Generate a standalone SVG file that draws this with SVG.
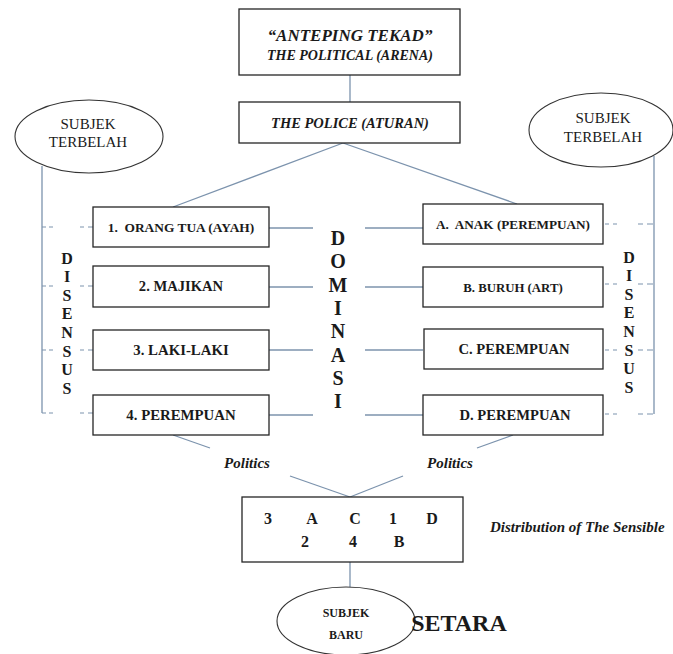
<svg xmlns="http://www.w3.org/2000/svg" width="673" height="654" viewBox="0 0 673 654" font-family="'Liberation Serif', 'DejaVu Serif', serif">
<style>
.box{fill:#fff;stroke:#262626;stroke-width:1.3}
.ell{fill:#fff;stroke:#333;stroke-width:1.1}
.con{stroke:#7c93ad;stroke-width:1.3;fill:none}
.dash{stroke:#7c93ad;stroke-width:1.1;fill:none}
text{font-family:'Liberation Serif','DejaVu Serif',serif;fill:#1a1a1a;text-anchor:middle}
.b{font-weight:bold}
.i{font-style:italic}
</style>
<rect width="673" height="654" fill="#fff"/>
<g id="connectors">
<line class="con" x1="350" y1="75" x2="350" y2="102"/>
<line class="con" x1="343" y1="143" x2="173" y2="207"/>
<line class="con" x1="343" y1="143" x2="517" y2="204"/>
<line class="con" x1="269" y1="228" x2="313" y2="228"/>
<line class="con" x1="269" y1="287" x2="313" y2="287"/>
<line class="con" x1="269" y1="350" x2="313" y2="350"/>
<line class="con" x1="269" y1="415" x2="313" y2="415"/>
<line class="con" x1="365" y1="228" x2="423" y2="228"/>
<line class="con" x1="365" y1="287" x2="423" y2="287"/>
<line class="con" x1="365" y1="350" x2="423" y2="350"/>
<line class="con" x1="365" y1="415" x2="423" y2="415"/>
<line class="con" x1="42" y1="166" x2="42" y2="413"/>
<line class="con" x1="654" y1="156" x2="654" y2="414"/>
<g class="dash" stroke-dasharray="4 3 4 27 4 4 5">
<line x1="42" y1="227" x2="93" y2="227"/>
<line x1="42" y1="286" x2="93" y2="286"/>
<line x1="42" y1="350" x2="93" y2="350"/>
<line x1="42" y1="413" x2="93" y2="413"/>
</g>
<g class="dash" stroke-dasharray="4 4 4 21 5 4 6">
<line x1="605" y1="224" x2="654" y2="224"/>
<line x1="605" y1="284" x2="654" y2="284"/>
<line x1="605" y1="350" x2="654" y2="350"/>
<line x1="605" y1="414" x2="654" y2="414"/>
</g>
<line class="con" x1="173" y1="435" x2="210" y2="448"/>
<line class="con" x1="290" y1="476" x2="350" y2="497"/>
<line class="con" x1="513" y1="435" x2="477" y2="448"/>
<line class="con" x1="403" y1="476" x2="350" y2="497"/>
<line class="con" x1="350" y1="562" x2="350" y2="587"/>
</g>
<g id="arena">
<rect class="box" x="239" y="9" width="221" height="66"/>
<text class="b i" x="350" y="41" font-size="17">“ANTEPING TEKAD”</text>
<text class="b i" x="350" y="60" font-size="14">THE POLITICAL (ARENA)</text>
</g>
<g id="police">
<rect class="box" x="239" y="102" width="221" height="41"/>
<text class="b i" x="350" y="128" font-size="14.5">THE POLICE (ATURAN)</text>
</g>
<g id="subjek-terbelah-left">
<ellipse class="ell" cx="89" cy="136.5" rx="74" ry="36.5"/>
<text x="88" y="129" font-size="15">SUBJEK</text>
<text x="88" y="147" font-size="15">TERBELAH</text>
</g>
<g id="subjek-terbelah-right">
<ellipse class="ell" cx="601" cy="130" rx="72" ry="37"/>
<text x="603" y="123" font-size="15">SUBJEK</text>
<text x="603" y="142" font-size="15">TERBELAH</text>
</g>
<g id="box1">
<rect class="box" x="93" y="207" width="176" height="40"/>
<text class="b" x="181" y="232" font-size="13.4" xml:space="preserve">1.  ORANG TUA (AYAH)</text>
</g>
<g id="box2">
<rect class="box" x="93" y="266" width="176" height="41"/>
<text class="b" x="181" y="291" font-size="14.6">2. MAJIKAN</text>
</g>
<g id="box3">
<rect class="box" x="93" y="330" width="176" height="40"/>
<text class="b" x="181" y="355" font-size="14.8">3. LAKI-LAKI</text>
</g>
<g id="box4">
<rect class="box" x="93" y="395" width="176" height="40"/>
<text class="b" x="181" y="420" font-size="14.8">4. PEREMPUAN</text>
</g>
<g id="boxA">
<rect class="box" x="423" y="204" width="180" height="40"/>
<text class="b" x="513" y="229" font-size="13.2" xml:space="preserve">A.  ANAK (PEREMPUAN)</text>
</g>
<g id="boxB">
<rect class="box" x="423" y="267" width="180" height="40"/>
<text class="b" x="513" y="292" font-size="12.8">B. BURUH (ART)</text>
</g>
<g id="boxC">
<rect class="box" x="424" y="329" width="179" height="40"/>
<text class="b" x="514" y="354" font-size="14.6">C. PEREMPUAN</text>
</g>
<g id="boxD">
<rect class="box" x="423" y="395" width="180" height="40"/>
<text class="b" x="515" y="420" font-size="14.6">D. PEREMPUAN</text>
</g>
<g id="dominasi" class="b" font-size="20">
<text x="338" y="245">D</text>
<text x="338" y="268">O</text>
<text x="338" y="292">M</text>
<text x="338" y="315">I</text>
<text x="338" y="338">N</text>
<text x="338" y="362">A</text>
<text x="338" y="385">S</text>
<text x="338" y="408">I</text>
</g>
<g id="disensus-left" class="b" font-size="16">
<text x="67" y="264">D</text>
<text x="67" y="282">I</text>
<text x="67" y="301">S</text>
<text x="67" y="319">E</text>
<text x="67" y="338">N</text>
<text x="67" y="357">S</text>
<text x="67" y="375">U</text>
<text x="67" y="394">S</text>
</g>
<g id="disensus-right" class="b" font-size="16">
<text x="629" y="263">D</text>
<text x="629" y="281">I</text>
<text x="629" y="300">S</text>
<text x="629" y="318">E</text>
<text x="629" y="337">N</text>
<text x="629" y="356">S</text>
<text x="629" y="374">U</text>
<text x="629" y="393">S</text>
</g>
<g id="politics-left"><text class="b i" x="247" y="468" font-size="15">Politics</text></g>
<g id="politics-right"><text class="b i" x="450" y="468" font-size="15">Politics</text></g>
<g id="distribution">
<rect class="box" x="242" y="497" width="221" height="65"/>
<g class="b" font-size="16">
<text x="268" y="524">3</text>
<text x="312" y="524">A</text>
<text x="355" y="524">C</text>
<text x="393" y="524">1</text>
<text x="432" y="524">D</text>
<text x="305" y="547">2</text>
<text x="353" y="547">4</text>
<text x="399" y="547">B</text>
</g>
</g>
<g id="distribution-label"><text class="b i" x="490" y="532" font-size="15" style="text-anchor:start">Distribution of The Sensible</text></g>
<g id="subjek-baru">
<ellipse class="ell" cx="346" cy="621" rx="69" ry="34"/>
<text class="b" x="346" y="617" font-size="12">SUBJEK</text>
<text class="b" x="346" y="639" font-size="12">BARU</text>
</g>
<g id="setara"><text class="b" x="459" y="631" font-size="24">SETARA</text></g>
</svg>
